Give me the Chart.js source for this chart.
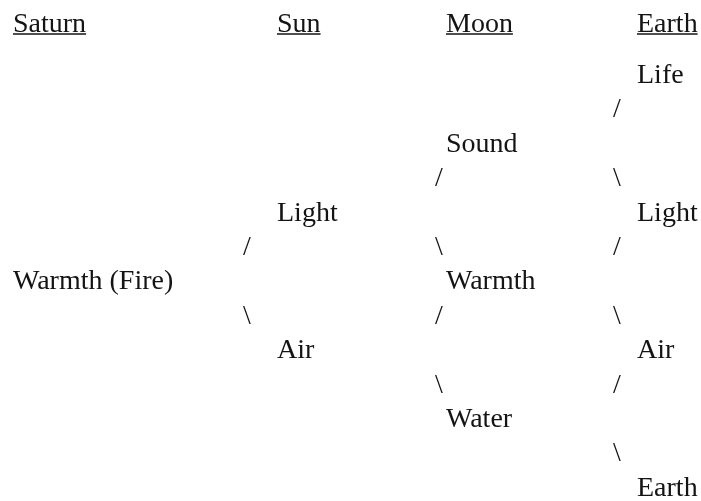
<!DOCTYPE html>
<html lang="en">
<head>
  <meta charset="UTF-8" />
  <title>Saturn, Sun, Moon, Earth</title>
  <script src="https://cdn.jsdelivr.net/npm/chart.js"></script>
  <style>
    html, body { margin: 0; padding: 0; background: #fff; }
    .chart-container { position: relative; width: 701px; height: 501px; }
  </style>
</head>
<body>
<div class="chart-container">
  <canvas id="evolutionChart"></canvas>
</div>

<script>
  // column headings
  const headers = ["Saturn", "Sun", "Moon", "Earth"];
  const headerRow = -1.48;

  // words: text, column (0 Saturn .. 3 Earth), row
  const words = ["Life", "Sound", "Light", "Light", "Warmth (Fire)", "Warmth", "Air", "Air", "Water", "Earth"];
  const wordCol = [3, 2, 1, 3, 0, 2, 1, 3, 2, 3];
  const wordRow = [0, 2, 4, 4, 6, 6, 8, 8, 10, 12];

  // connecting strokes between the rows
  const links = ["/", "/", "\\", "/", "\\", "/", "\\", "/", "\\", "\\", "/", "\\"];
  const linkCol = [3, 2, 3, 1, 2, 3, 1, 2, 3, 2, 3, 3];
  const linkRow = [1, 3, 3, 5, 5, 5, 7, 7, 7, 9, 9, 11];

  // horizontal stops on the x axis for each column
  const textStops = [13, 277, 446, 637];
  const linkStops = [0, 243, 435, 613];

  const FONT = "28px 'Liberation Serif', 'DejaVu Serif', serif";
  const INK = "#141414";

  const labelPlugin = {
    id: "labels",
    afterDatasetsDraw(chart) {
      const ctx = chart.ctx;
      const xs = chart.scales.x, ys = chart.scales.y;
      ctx.save();
      ctx.font = FONT;
      ctx.fillStyle = INK;
      ctx.strokeStyle = INK;
      ctx.textAlign = "left";
      ctx.textBaseline = "alphabetic";
      chart.data.datasets.forEach(ds => {
        ds.data.forEach(p => {
          const px = xs.getPixelForValue(p.x);
          const py = ys.getPixelForValue(p.y);
          ctx.fillText(p.label, px, py);
          if (p.underline) {
            const w = ctx.measureText(p.label).width;
            ctx.lineWidth = 1.5;
            ctx.beginPath();
            ctx.moveTo(px, py + 2);
            ctx.lineTo(px + w, py + 2);
            ctx.stroke();
          }
        });
      });
      ctx.restore();
    }
  };

  const headerPoints = headers.map((h, i) => ({ x: textStops[i], y: headerRow, label: h, underline: true }));
  const wordPoints = words.map((w, i) => ({ x: textStops[wordCol[i]], y: wordRow[i], label: w }));
  const linkPoints = links.map((s, i) => ({ x: linkStops[linkCol[i]], y: linkRow[i], label: s }));

  new Chart(document.getElementById("evolutionChart"), {
    type: "scatter",
    data: {
      datasets: [
        { label: "Headers", data: headerPoints, pointRadius: 0 },
        { label: "Words", data: wordPoints, pointRadius: 0 },
        { label: "Links", data: linkPoints, pointRadius: 0 }
      ]
    },
    options: {
      responsive: true,
      maintainAspectRatio: false,
      animation: false,
      layout: { padding: 0 },
      plugins: {
        legend: { display: false },
        tooltip: { enabled: false }
      },
      scales: {
        x: { type: "linear", display: false, min: 0, max: 701 },
        y: { type: "linear", display: false, reverse: true, min: -2.413, max: 12.151 }
      }
    },
    plugins: [labelPlugin]
  });
</script>
</body>
</html>
